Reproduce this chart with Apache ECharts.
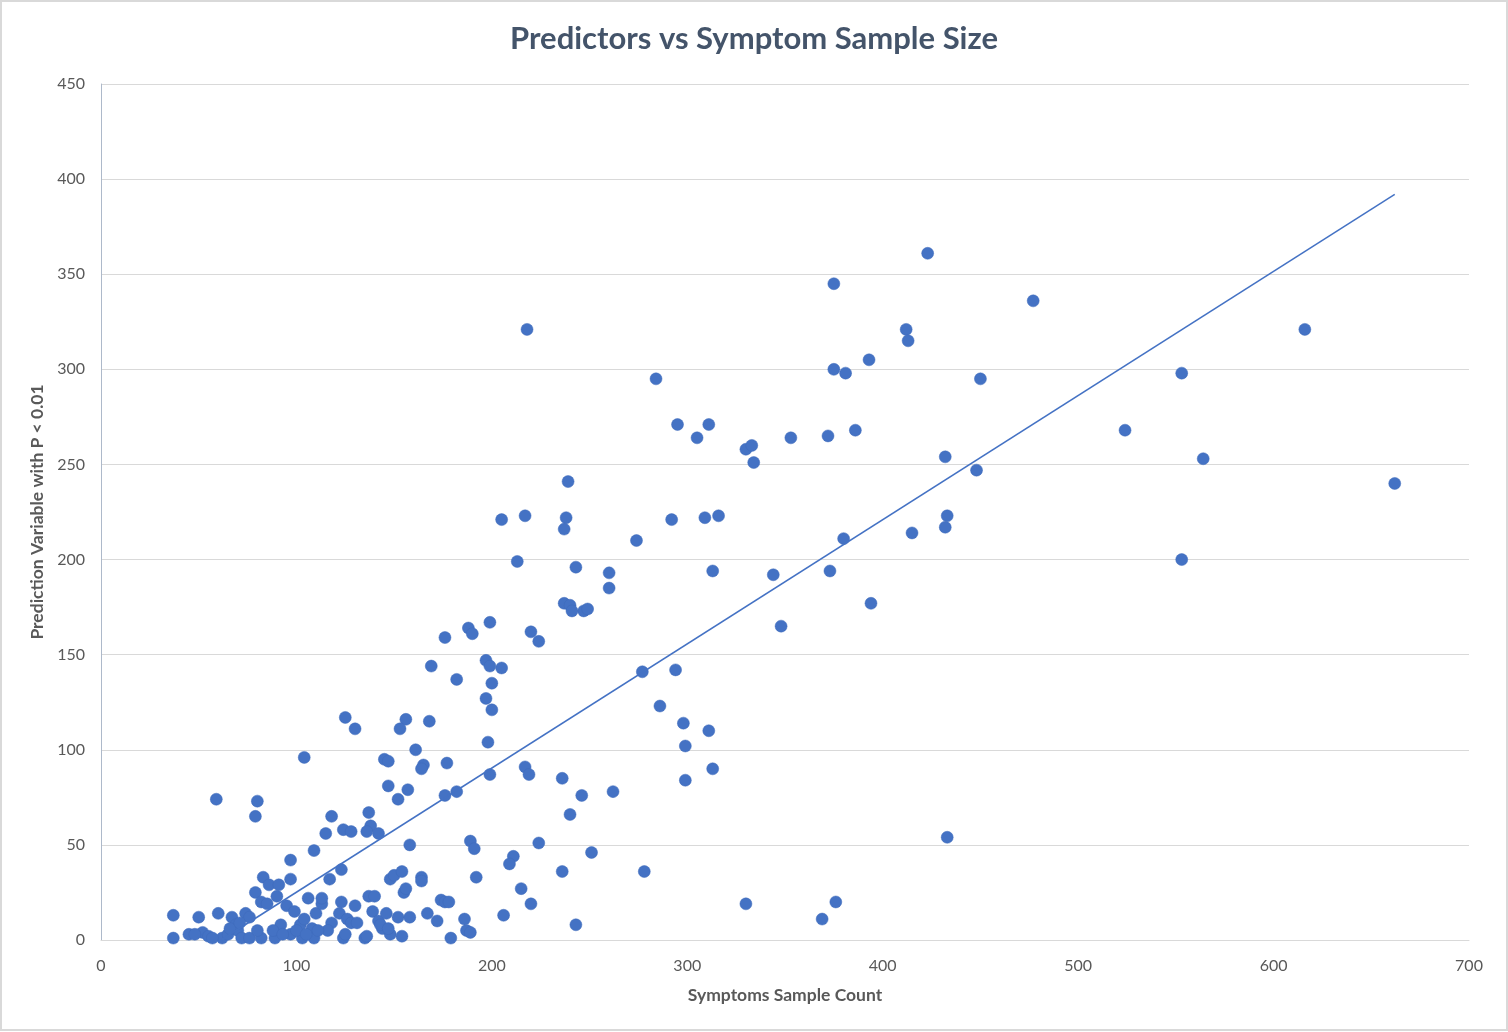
<!DOCTYPE html>
<html><head><meta charset="utf-8">
<script src="https://cdn.jsdelivr.net/npm/echarts@6/dist/echarts.min.js"></script>
<style>html,body{margin:0;padding:0;background:#fff}#c{width:1508px;height:1032px}</style>
</head><body><div id="c"></div>
<script>
const chartTitle = "Predictors vs Symptom Sample Size";
const xAxisTitle = "Symptoms Sample Count";
const yAxisTitle = "Prediction Variable with P < 0.01";
const xTicks = [0,100,200,300,400,500,600,700];
const yTicks = [0,50,100,150,200,250,300,350,400,450];
const sampleCount = [
218,423,375,477,412,413,616,393,375,381,284,450,553,295,311,305,353,372,386,524,
330,333,334,432,564,448,239,662,205,217,238,292,309,316,433,237,415,432,380,274,
213,553,243,260,313,344,373,260,237,240,241,247,249,394,348,220,224,188,190,176,
199,169,197,199,205,182,200,277,294,197,200,286,125,130,156,153,168,298,311,104,
161,145,147,165,164,177,198,299,217,219,199,313,236,299,246,262,176,182,59,80,
79,118,137,147,157,152,138,124,128,136,142,115,240,433,189,191,224,158,109,251,
211,209,97,123,236,278,192,215,155,
37,37,45,50,52,55,60,62,65,67,69,70,74,72,76,79,82,83,85,86,
90,91,92,95,97,99,102,104,106,108,110,113,113,117,118,122,123,126,128,130,
137,139,140,142,144,146,148,150,152,154,156,158,164,164,167,172,174,176,178,186,
187,189,206,220,243,330,369,376,179,135,124,109,103,97,89,82,76,148,154,125,
143,147,116,111,88,93,80,66,71,57,48,100,105,131,136
];
const predictorCount = [
321,361,345,336,321,315,321,305,300,298,295,295,298,271,271,264,264,265,268,268,
258,260,251,254,253,247,241,240,221,223,222,221,222,223,223,216,214,217,211,210,
199,200,196,193,194,192,194,185,177,176,173,173,174,177,165,162,157,164,161,159,
167,144,147,144,143,137,135,141,142,127,121,123,117,111,116,111,115,114,110,96,
100,95,94,92,90,93,104,102,91,87,87,90,85,84,76,78,76,78,74,73,
65,65,67,81,79,74,60,58,57,57,56,56,66,54,52,48,51,50,47,46,
44,40,42,37,36,36,33,27,25,
13,1,3,12,4,2,14,1,3,12,8,5,14,1,12,25,20,33,19,29,
23,29,8,18,32,15,8,11,22,6,14,19,22,32,9,14,20,11,9,18,
23,15,23,10,6,14,32,34,12,36,27,12,33,31,14,10,21,20,20,11,
5,4,13,19,8,19,11,20,1,1,1,1,1,3,1,1,1,3,2,3,
8,6,5,5,5,3,5,6,9,1,3,5,3,9,2
];
const trendX = [61.5, 662];
const trendY = [0, 392];

const points = sampleCount.map((x,i)=>[x,predictorCount[i]]);
const chart = echarts.init(document.getElementById('c'));
const FONT = 'Lato, "Open Sans", sans-serif';
chart.setOption({
  animation:false,
  backgroundColor:'#fff',
  graphic:[{type:'rect',shape:{x:1,y:1,width:1506,height:1029},
    style:{fill:'none',stroke:'#D9D9D9',lineWidth:2},silent:true,z:0}],
  title:{text:chartTitle,left:'center',top:18,textStyle:{fontFamily:FONT,fontSize:31,fontWeight:'bold',color:'#44546A'}},
  grid:{left:101,right:39,top:84,bottom:92,containLabel:false},
  xAxis:{type:'value',min:0,max:700,interval:100,
    name:xAxisTitle,nameLocation:'middle',nameGap:46,
    nameTextStyle:{fontFamily:FONT,fontSize:17.5,fontWeight:'bold',color:'#595959'},
    axisLine:{show:true,lineStyle:{color:'#D9D9D9',width:1}},
    axisTick:{show:false},splitLine:{show:false},
    axisLabel:{fontFamily:FONT,fontSize:16,color:'#595959',margin:18}},
  yAxis:{type:'value',min:0,max:450,interval:50,
    name:yAxisTitle,nameLocation:'middle',nameGap:53,nameRotate:90,
    nameTextStyle:{fontFamily:FONT,fontSize:17.5,fontWeight:'bold',color:'#595959'},
    axisLine:{show:true,lineStyle:{color:'#ADB9CA',width:1}},axisTick:{show:false},
    splitLine:{show:true,lineStyle:{color:'#D9D9D9',width:1}},
    axisLabel:{fontFamily:FONT,fontSize:16,color:'#595959',margin:16}},
  series:[
    {type:'scatter',data:points,symbolSize:12,
     itemStyle:{color:'#4472C4',borderColor:'#3F6BBA',borderWidth:0.5,opacity:1},z:2},
    {type:'line',data:trendX.map((x,i)=>[x,trendY[i]]),symbol:'none',
     lineStyle:{color:'#4472C4',width:1.5},z:3,silent:true}
  ]
});
</script></body></html>
